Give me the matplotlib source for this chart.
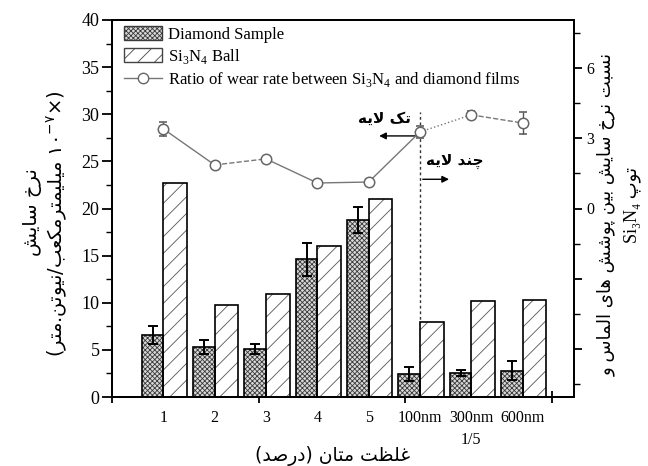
import numpy as np
import matplotlib
matplotlib.use('Agg')
import matplotlib.pyplot as plt
from matplotlib.lines import Line2D
from matplotlib.patches import Patch
from matplotlib.ticker import FixedLocator, FuncFormatter

# ---------------- data ----------------
categories = ['1', '2', '3', '4', '5', '100nm', '300nm\n1/5', '600nm']
diamond = [6.6, 5.3, 5.1, 14.6, 18.8, 2.45, 2.55, 2.8]
diamond_err = [0.95, 0.7, 0.5, 1.75, 1.4, 0.75, 0.35, 1.0]
si3n4 = [22.7, 9.8, 10.9, 16.0, 21.0, 8.0, 10.2, 10.3]
ratio = [3.40, 1.86, 2.12, 1.09, 1.13, 3.27, 4.00, 3.65]
ratio_err = [0.30, 0.05, 0.05, 0.10, 0.12, 0.25, 0.15, 0.45]
segment_styles = ['-', '--', '-', '-', '-', ':', '--']

# ---------------- simple Persian shaping ----------------
_F = {
    'ا': (0xFE8D, 0xFE8E, None, None), 'آ': (0xFE81, 0xFE82, None, None),
    'ب': (0xFE8F, 0xFE90, 0xFE91, 0xFE92), 'پ': (0xFB56, 0xFB57, 0xFB58, 0xFB59),
    'ت': (0xFE95, 0xFE96, 0xFE97, 0xFE98), 'ث': (0xFE99, 0xFE9A, 0xFE9B, 0xFE9C),
    'ج': (0xFE9D, 0xFE9E, 0xFE9F, 0xFEA0), 'چ': (0xFB7A, 0xFB7B, 0xFB7C, 0xFB7D),
    'ح': (0xFEA1, 0xFEA2, 0xFEA3, 0xFEA4), 'خ': (0xFEA5, 0xFEA6, 0xFEA7, 0xFEA8),
    'د': (0xFEA9, 0xFEAA, None, None), 'ذ': (0xFEAB, 0xFEAC, None, None),
    'ر': (0xFEAD, 0xFEAE, None, None), 'ز': (0xFEAF, 0xFEB0, None, None),
    'ژ': (0xFB8A, 0xFB8B, None, None),
    'س': (0xFEB1, 0xFEB2, 0xFEB3, 0xFEB4), 'ش': (0xFEB5, 0xFEB6, 0xFEB7, 0xFEB8),
    'ص': (0xFEB9, 0xFEBA, 0xFEBB, 0xFEBC), 'ض': (0xFEBD, 0xFEBE, 0xFEBF, 0xFEC0),
    'ط': (0xFEC1, 0xFEC2, 0xFEC3, 0xFEC4), 'ظ': (0xFEC5, 0xFEC6, 0xFEC7, 0xFEC8),
    'ع': (0xFEC9, 0xFECA, 0xFECB, 0xFECC), 'غ': (0xFECD, 0xFECE, 0xFECF, 0xFED0),
    'ف': (0xFED1, 0xFED2, 0xFED3, 0xFED4), 'ق': (0xFED5, 0xFED6, 0xFED7, 0xFED8),
    'ک': (0xFB8E, 0xFB8F, 0xFB90, 0xFB91), 'گ': (0xFB92, 0xFB93, 0xFB94, 0xFB95),
    'ل': (0xFEDD, 0xFEDE, 0xFEDF, 0xFEE0), 'م': (0xFEE1, 0xFEE2, 0xFEE3, 0xFEE4),
    'ن': (0xFEE5, 0xFEE6, 0xFEE7, 0xFEE8), 'ه': (0xFEE9, 0xFEEA, 0xFEEB, 0xFEEC),
    'و': (0xFEED, 0xFEEE, None, None), 'ی': (0xFBFC, 0xFBFD, 0xFBFE, 0xFBFF),
}
_LAMALEF = {'ا': (0xFEFB, 0xFEFC), 'آ': (0xFEF5, 0xFEF6)}


def _joins_next(c):
    return c in _F and _F[c][2] is not None


def shape(s):
    res = []
    i, n = 0, len(s)
    while i < n:
        c = s[i]
        if c not in _F:
            res.append(c)
            i += 1
            continue
        prev = s[i - 1] if i > 0 else None
        jp = prev is not None and _joins_next(prev)
        if c == 'ل' and i + 1 < n and s[i + 1] in _LAMALEF:
            res.append(chr(_LAMALEF[s[i + 1]][1 if jp else 0]))
            i += 2
            continue
        nxt = s[i + 1] if i + 1 < n else None
        jn = _joins_next(c) and nxt in _F
        iso, fin, ini, med = _F[c]
        g = med if (jp and jn) else fin if jp else ini if jn else iso
        res.append(chr(g))
        i += 1
    return ''.join(res)


def vis(s):
    out = shape(s)[::-1]
    return out.translate(str.maketrans({'(': ')', ')': '('}))


# ---------------- figure ----------------
plt.rcParams['font.family'] = ['Liberation Serif', 'DejaVu Sans']
plt.rcParams['hatch.linewidth'] = 0.6
plt.rcParams['axes.linewidth'] = 1.4

fig = plt.figure(figsize=(6.48, 4.66), dpi=100)
ax = fig.add_axes([112 / 648, 1 - 397 / 466, 462 / 648, 377 / 466])
ax2 = ax.twinx()

x = np.arange(1, len(categories) + 1)
wd, ws = 0.42, 0.46

# diamond bars (gray crosshatch, black outline)
ax.bar(x, diamond, width=-wd, align='edge', color='#d8d8d8', edgecolor='#3a3a3a',
       hatch='xxxxxxx', linewidth=0, zorder=2)
ax.bar(x, diamond, width=-wd, align='edge', fill=False, edgecolor='black',
       linewidth=1.2, zorder=3)
ax.errorbar(x - wd / 2, diamond, yerr=diamond_err, fmt='none', ecolor='black',
            elinewidth=1.4, capsize=3.5, capthick=1.4, zorder=4)
# Si3N4 bars
ax.bar(x, si3n4, width=ws, align='edge', color='white', edgecolor='#555555',
       hatch='//', linewidth=0, zorder=2)
ax.bar(x, si3n4, width=ws, align='edge', fill=False, edgecolor='black',
       linewidth=1.2, zorder=3)

ax.set_xlim(0, 9)
ax.set_ylim(0, 40)
ax2.set_ylim(-8.05, 8.05)

# ratio line on right axis
for i in range(len(x) - 1):
    ax2.plot(x[i:i + 2], ratio[i:i + 2], color='#777777', lw=1.0,
             linestyle=segment_styles[i], zorder=3)
ax2.errorbar(x, ratio, yerr=ratio_err, fmt='o', mfc='white', mec='#666666',
             ms=7.5, mew=1.1, ecolor='#555555', elinewidth=1.0, capsize=3,
             capthick=1.0, zorder=4)

# x ticks: labels at groups, marks at separate positions
ax.set_xticks(x)
ax.set_xticklabels(categories, fontsize=11.5, linespacing=1.55)
ax.tick_params(axis='x', length=0, pad=9)
sec = ax.secondary_xaxis('bottom')
sec.set_xticks(np.arange(0, 9, 20 / 7))
sec.xaxis.set_minor_locator(FixedLocator(np.arange(10 / 7, 9, 20 / 7)))
sec.set_xticklabels([])
sec.tick_params(axis='x', which='major', direction='inout', length=9, width=1.3)
sec.tick_params(axis='x', which='minor', direction='in', length=5, width=1.0)
sec.spines['bottom'].set_linewidth(1.4)

# left y ticks
ax.set_yticks(np.arange(0, 41, 5))
ax.yaxis.set_minor_locator(FixedLocator(np.arange(2.5, 40, 5)))
ax.tick_params(axis='y', which='major', direction='out', length=7, width=1.3,
               labelsize=13, pad=2)
ax.tick_params(axis='y', which='minor', direction='out', length=4, width=1.0)

# right y ticks
ax2.set_yticks([-6, -3, 0, 3, 6])
ax2.yaxis.set_minor_locator(FixedLocator([-7.5, -4.5, -1.5, 1.5, 4.5, 7.5]))
ax2.yaxis.set_major_formatter(FuncFormatter(lambda v, p: f'{v:.0f}' if v >= 0 else ''))
ax2.tick_params(axis='y', which='major', direction='out', length=6, width=1.3,
                labelsize=11.5, pad=3)
ax2.tick_params(axis='y', which='minor', direction='out', length=4, width=1.0)

# vertical separator and arrows
ax.axvline(6, ymin=0, ymax=0.755, color='#333333', lw=1.0, linestyle=(0, (2, 2)), zorder=1)
ax.annotate('', xy=(5.15, 27.7), xytext=(6.0, 27.7),
            arrowprops=dict(arrowstyle='-|>', color='black', lw=1.0, mutation_scale=10))
ax.annotate('', xy=(6.62, 23.1), xytext=(6.0, 23.1),
            arrowprops=dict(arrowstyle='-|>', color='black', lw=1.0, mutation_scale=10))
pfont = ['DejaVu Sans']
ax.text(5.3, 29.6, vis('تک لایه'), family=pfont, fontsize=11, fontweight='bold',
        ha='center', va='center')
ax.text(6.68, 25.0, vis('چند لایه'), family=pfont, fontsize=11, fontweight='bold',
        ha='center', va='center')

# legend
handles = [
    Patch(facecolor='#d8d8d8', edgecolor='#3a3a3a', hatch='xxxxxxx', linewidth=1.0),
    Patch(facecolor='white', edgecolor='#444444', hatch='//', linewidth=1.0),
    Line2D([0], [0], color='#777777', lw=1.0, marker='o', mfc='white', mec='#666666', ms=7.5),
]
labels = ['Diamond Sample', r'Si$_\mathdefault{3}$N$_\mathdefault{4}$ Ball',
          r'Ratio of wear rate between Si$_\mathdefault{3}$N$_\mathdefault{4}$ and diamond films']
ax.legend(handles, labels, loc='upper left', bbox_to_anchor=(0.0, 1.015), frameon=False,
          fontsize=12, handlelength=2.3, handleheight=0.9, handletextpad=0.35,
          labelspacing=0.25, borderaxespad=0.3)

# axis titles (Persian)
fig.text(333 / 648, 1 - 456 / 466, vis('غلظت متان (درصد)'), family=pfont, fontsize=13.5,
         ha='center', va='center')
fig.text(32 / 648, 1 - 212 / 466, vis('نرخ سایش'), family=pfont, fontsize=14,
         rotation=90, ha='center', va='center')
fig.text(57 / 648, 1 - 224 / 466,
         '(' + vis('میلیمترمکعب/نیوتن.متر') + ' ۱۰$^{\\mathdefault{-۷}}$×)',
         family=pfont, fontsize=14, rotation=90, ha='center', va='center')
fig.text(606 / 648, 1 - 215 / 466, vis('نسبت نرخ سایش بین پوشش های الماس و'),
         family=pfont, fontsize=13, rotation=90, ha='center', va='center')
fig.text(632 / 648, 1 - 205 / 466, 'Si₃N₄ ' + vis('توپ'),
         family=['Liberation Serif', 'DejaVu Sans'], fontsize=13, rotation=90,
         ha='center', va='center')

fig.savefig('out.png', dpi=100)
